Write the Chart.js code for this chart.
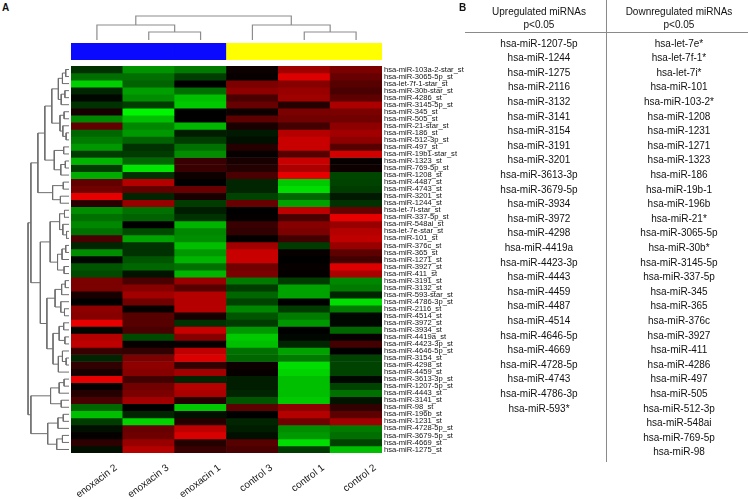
<!DOCTYPE html>
<html lang="en">
<head>
<meta charset="UTF-8">
<title>miRNA heatmap</title>
<style>
  body { margin: 0; background: #fff; }
  #wrap { position: relative; width: 748px; height: 499px; overflow: hidden; background: #fff;
          font-family: 'Liberation Sans', Arial, sans-serif; color: #111; }
  #wrap canvas { position: absolute; }
  .cell { position: absolute; width: 150px; text-align: center; font-size: 10px; line-height: 12px; white-space: nowrap; }
  .panel { position: absolute; font-weight: bold; font-size: 10px; }
  .rule { position: absolute; background: #8a8a8a; }
</style>
</head>
<body>
<div id="wrap">
  <div class="panel" style="left:2px;top:2px">A</div>
  <canvas id="colDendro" width="311" height="28" style="left:71px;top:12px"></canvas>
  <canvas id="groupBar" width="311" height="17" style="left:71px;top:43px"></canvas>
  <canvas id="rowDendro" width="43" height="387" style="left:26px;top:66px"></canvas>
  <canvas id="heat" width="500" height="499" style="left:0;top:0"></canvas>
  <div id="tableB"></div>
</div>

<script src="https://cdn.jsdelivr.net/npm/chart.js"></script>
<script>
const sampleNames = ['enoxacin 2', 'enoxacin 3', 'enoxacin 1', 'control 3', 'control 1', 'control 2'];
const groupColors = ['#0a0aff', '#0a0aff', '#0a0aff', '#ffff00', '#ffff00', '#ffff00'];

const probeNames = [
  'hsa-miR-103a-2-star_st', 'hsa-miR-3065-5p_st', 'hsa-let-7f-1-star_st', 'hsa-miR-30b-star_st',
  'hsa-miR-4286_st', 'hsa-miR-3145-5p_st', 'hsa-miR-345_st', 'hsa-miR-505_st',
  'hsa-miR-21-star_st', 'hsa-miR-186_st', 'hsa-miR-512-3p_st', 'hsa-miR-497_st',
  'hsa-miR-19b1-star_st', 'hsa-miR-1323_st', 'hsa-miR-769-5p_st', 'hsa-miR-1208_st',
  'hsa-miR-4487_st', 'hsa-miR-4743_st', 'hsa-miR-3201_st', 'hsa-miR-1244_st',
  'hsa-let-7i-star_st', 'hsa-miR-337-5p_st', 'hsa-miR-548ai_st', 'hsa-let-7e-star_st',
  'hsa-miR-101_st', 'hsa-miR-376c_st', 'hsa-miR-365_st', 'hsa-miR-1271_st',
  'hsa-miR-3927_st', 'hsa-miR-411_st', 'hsa-miR-3191_st', 'hsa-miR-3132_st',
  'hsa-miR-593-star_st', 'hsa-miR-4786-3p_st', 'hsa-miR-2116_st', 'hsa-miR-4514_st',
  'hsa-miR-3972_st', 'hsa-miR-3934_st', 'hsa-miR-4419a_st', 'hsa-miR-4423-3p_st',
  'hsa-miR-4646-5p_st', 'hsa-miR-3154_st', 'hsa-miR-4298_st', 'hsa-miR-4459_st',
  'hsa-miR-3613-3p_st', 'hsa-miR-1207-5p_st', 'hsa-miR-4443_st', 'hsa-miR-3141_st',
  'hsa-miR-98_st', 'hsa-miR-196b_st', 'hsa-miR-1231_st', 'hsa-miR-4728-5p_st',
  'hsa-miR-3679-5p_st', 'hsa-miR-4669_st', 'hsa-miR-1275_st'
];

// scaled expression, one row per probe, columns in sampleNames order (green < 0 < red)
const expr = [
  [-0.20, -0.60, -0.50,  0.05,  0.65,  0.50],
  [-0.45, -0.45, -0.25,  0.03,  0.90,  0.42],
  [-0.85, -0.40,  0.00,  0.50,  0.55,  0.35],
  [-0.15, -0.65, -0.45,  0.58,  0.62,  0.30],
  [-0.03, -0.58, -0.78,  0.30,  0.65,  0.38],
  [-0.20, -0.25, -0.82,  0.42,  0.15,  0.70],
  [ 0.10, -1.00,  0.00,  0.05,  0.50,  0.50],
  [-0.55, -0.78,  0.00,  0.38,  0.46,  0.46],
  [ 0.40, -0.55, -0.75,  0.10,  0.27,  0.58],
  [-0.42, -0.62, -0.12, -0.10,  0.74,  0.66],
  [-0.50, -0.40, -0.24, -0.06,  0.82,  0.58],
  [-0.62, -0.20, -0.46,  0.15,  0.82,  0.35],
  [-0.24, -0.24, -0.58,  0.03,  0.35,  0.86],
  [-0.74, -0.42,  0.23,  0.10,  0.82,  0.03],
  [-0.24, -0.94,  0.23,  0.15,  0.70,  0.06],
  [-0.70, -0.20,  0.06,  0.30,  0.94, -0.28],
  [ 0.40,  0.74,  0.00, -0.15, -0.82, -0.27],
  [ 0.46,  0.40,  0.42, -0.15, -0.90, -0.24],
  [ 0.94, -0.15,  0.10, -0.27, -0.42, -0.10],
  [ 0.18,  0.62, -0.24,  0.42, -0.66, -0.20],
  [-0.58, -0.46, -0.12,  0.00,  0.78,  0.42],
  [-0.46, -0.40, -0.20,  0.02,  0.30,  0.94],
  [-0.55,  0.00, -0.74,  0.23,  0.55,  0.62],
  [-0.46, -0.30, -0.55,  0.20,  0.50,  0.74],
  [ 0.30, -0.66, -0.58,  0.02,  0.27,  0.78],
  [-0.15, -0.20, -0.78,  0.66, -0.24,  0.62],
  [-0.58, -0.20, -0.62,  0.82,  0.03,  0.38],
  [-0.03, -0.35, -0.74,  0.82,  0.00,  0.27],
  [-0.35, -0.42, -0.46,  0.46,  0.03,  0.90],
  [-0.30, -0.08, -0.74,  0.50,  0.02,  0.70],
  [ 0.50,  0.30,  0.62, -0.50, -0.24, -0.55],
  [ 0.50,  0.55,  0.35, -0.24, -0.66, -0.50],
  [ 0.10,  0.66,  0.74, -0.42, -0.66, -0.15],
  [ 0.00,  0.46,  0.74, -0.27,  0.00, -0.90],
  [ 0.58,  0.03,  0.74, -0.55, -0.24, -0.50],
  [ 0.55,  0.35,  0.10, -0.35, -0.50, -0.03],
  [ 0.94,  0.35, -0.20, -0.24, -0.62, -0.03],
  [-0.03,  0.30,  0.82, -0.62,  0.00, -0.42],
  [ 0.74, -0.30,  0.55, -0.82, -0.03,  0.03],
  [ 0.78,  0.03,  0.03, -0.78, -0.15,  0.27],
  [ 0.23,  0.20,  0.78, -0.46, -0.66,  0.00],
  [-0.15,  0.50,  0.90, -0.42, -0.50, -0.27],
  [ 0.20,  0.58,  0.20,  0.05, -0.90, -0.27],
  [ 0.10,  0.55,  0.66,  0.03, -0.86, -0.27],
  [ 0.94,  0.27, -0.15, -0.12, -0.78, -0.03],
  [ 0.03,  0.46,  0.74, -0.12, -0.78, -0.27],
  [ 0.15,  0.50,  0.70, -0.15, -0.78, -0.46],
  [ 0.30,  0.66,  0.15, -0.35, -0.82, -0.08],
  [-0.42,  0.00, -0.82,  0.38,  0.58,  0.20],
  [-0.78, -0.15, -0.06,  0.00,  0.74,  0.38],
  [-0.24, -0.86,  0.15, -0.15,  0.46,  0.66],
  [-0.06,  0.42,  0.78, -0.12, -0.58, -0.50],
  [ 0.02,  0.45,  0.88, -0.06, -0.62, -0.45],
  [ 0.18,  0.62,  0.15,  0.35, -0.90, -0.27],
  [-0.06,  0.74,  0.23,  0.30, -0.24, -0.78]
];

// clustering trees: [merge height, left, right], leaves are indexes
const colTree = [24, [15, 0, [8, 1, 2]], [15, 3, [8, 4, 5]]];
const rowTree =
  [10,
    [9.3,
      [7.6,
        [5.9,
          [4.2,
            [2.6, [1.6, [0.8, 0, 1], 2], [1.9, [1.0, 3, 4], 5]],
            [2.2, [1.2, 6, 7], [1.5, 8, [0.7, 9, 10]]]],
          [3.6, [1.3, 11, 12], [2.0, [0.9, 13, 14], 15]]],
        [4.0, [1.4, 16, 17], [2.1, 18, 19]]],
      [7.0,
        [4.6,
          [2.3, [1.1, 20, 21], [1.5, 22, [0.6, 23, 24]]],
          [2.8, [1.7, [0.8, 25, 26], 27], [1.2, 28, 29]]],
        [5.4,
          [3.4, [1.8, [0.9, 30, 31], 32], [2.0, 33, [1.1, 34, 35]]],
          [3.9, [2.4, [1.3, 36, 37], [1.0, 38, 39]], [2.6, [1.6, 40, [0.7, 41, 42]], 43]]]]],
    [9.3,
      [4.5, [2.4, [1.2, 44, 45], 46], [1.9, 47, 48]],
      [5.2, [2.7, [1.4, 49, 50], 51], [3.0, [1.6, 52, 53], 54]]]];

const upregulated = [
  'hsa-miR-1207-5p', 'hsa-miR-1244', 'hsa-miR-1275', 'hsa-miR-2116', 'hsa-miR-3132', 'hsa-miR-3141',
  'hsa-miR-3154', 'hsa-miR-3191', 'hsa-miR-3201', 'hsa-miR-3613-3p', 'hsa-miR-3679-5p', 'hsa-miR-3934',
  'hsa-miR-3972', 'hsa-miR-4298', 'hsa-miR-4419a', 'hsa-miR-4423-3p', 'hsa-miR-4443', 'hsa-miR-4459',
  'hsa-miR-4487', 'hsa-miR-4514', 'hsa-miR-4646-5p', 'hsa-miR-4669', 'hsa-miR-4728-5p', 'hsa-miR-4743',
  'hsa-miR-4786-3p', 'hsa-miR-593*'
];
const downregulated = [
  'hsa-let-7e*', 'hsa-let-7f-1*', 'hsa-let-7i*', 'hsa-miR-101', 'hsa-miR-103-2*', 'hsa-miR-1208',
  'hsa-miR-1231', 'hsa-miR-1271', 'hsa-miR-1323', 'hsa-miR-186', 'hsa-miR-19b-1', 'hsa-miR-196b',
  'hsa-miR-21*', 'hsa-miR-3065-5p', 'hsa-miR-30b*', 'hsa-miR-3145-5p', 'hsa-miR-337-5p', 'hsa-miR-345',
  'hsa-miR-365', 'hsa-miR-376c', 'hsa-miR-3927', 'hsa-miR-411', 'hsa-miR-4286', 'hsa-miR-497',
  'hsa-miR-505', 'hsa-miR-512-3p', 'hsa-miR-548ai', 'hsa-miR-769-5p', 'hsa-miR-98'
];

const FONT = 'Liberation Sans, Arial, sans-serif';

const heatColor = v => {
  const c = Math.round(Math.min(Math.abs(v), 1) * 245);
  return v >= 0 ? `rgb(${c},0,0)` : `rgb(0,${c},0)`;
};

// walk a tree and collect the elbow lines as {pos, h} pairs, NaN breaks the line
const treeLines = (node, pts) => {
  if (typeof node === 'number') return { pos: node + 0.5, h: 0 };
  const [h, a, b] = node;
  const l = treeLines(a, pts);
  const r = treeLines(b, pts);
  pts.push([l.pos, l.h], [l.pos, h], [r.pos, h], [r.pos, r.h], [NaN, NaN]);
  return { pos: (l.pos + r.pos) / 2, h: h };
};

const hidden = { display: false };
const baseOpts = {
  responsive: false,
  animation: false,
  events: [],
  plugins: { legend: { display: false }, tooltip: { enabled: false } }
};

// ---------- heatmap ----------
new Chart(document.getElementById('heat'), {
  type: 'bar',
  data: {
    labels: sampleNames,
    datasets: probeNames.map((name, i) => ({
      label: name,
      data: sampleNames.map(() => 1),
      backgroundColor: expr[i].map(heatColor),
      borderWidth: 0,
      barPercentage: 1,
      categoryPercentage: 1
    }))
  },
  options: {
    ...baseOpts,
    layout: { padding: { left: 71, top: 66, right: 0, bottom: 0 } },
    scales: {
      x: {
        stacked: true,
        grid: { display: false, drawTicks: false },
        border: { display: false },
        ticks: {
          minRotation: 37, maxRotation: 37, labelOffset: 19, padding: 9,
          color: '#1a1a1a', font: { family: FONT, size: 10 }
        },
        afterFit: s => { s.height = 46; }
      },
      y: { stacked: true, min: 0, max: probeNames.length, reverse: true, display: false },
      probes: {
        type: 'category',
        axis: 'y',
        position: 'right',
        labels: probeNames,
        offset: true,
        grid: { display: false, drawTicks: false },
        border: { display: false },
        ticks: { autoSkip: false, padding: 2, color: '#111', font: { family: FONT, size: 7.6 } },
        afterFit: s => { s.width = 118; }
      }
    }
  }
});

// ---------- row dendrogram ----------
const rowPts = [];
treeLines(rowTree, rowPts);
new Chart(document.getElementById('rowDendro'), {
  type: 'scatter',
  data: {
    datasets: [{
      data: rowPts.map(([p, h]) => ({ x: h, y: p })),
      showLine: true, pointRadius: 0, borderColor: '#6e6e6e', borderWidth: 1, clip: false
    }]
  },
  options: {
    ...baseOpts,
    scales: {
      x: { type: 'linear', min: 0, max: 10.5, reverse: true, ...hidden },
      y: { type: 'linear', min: 0, max: probeNames.length, reverse: true, ...hidden }
    }
  }
});

// ---------- column dendrogram ----------
const colPts = [];
treeLines(colTree, colPts);
new Chart(document.getElementById('colDendro'), {
  type: 'scatter',
  data: {
    datasets: [{
      data: colPts.map(([p, h]) => ({ x: p, y: h })),
      showLine: true, pointRadius: 0, borderColor: '#8c8c8c', borderWidth: 1.2, clip: false
    }]
  },
  options: {
    ...baseOpts,
    scales: {
      x: { type: 'linear', min: 0, max: sampleNames.length, ...hidden },
      y: { type: 'linear', min: 0, max: 28, ...hidden }
    }
  }
});

// ---------- group colour bar ----------
new Chart(document.getElementById('groupBar'), {
  type: 'bar',
  data: {
    labels: sampleNames,
    datasets: [{
      data: sampleNames.map(() => 1),
      backgroundColor: groupColors,
      borderWidth: 0, barPercentage: 1, categoryPercentage: 1
    }]
  },
  options: {
    ...baseOpts,
    scales: { x: hidden, y: { min: 0, max: 1, ...hidden } }
  }
});

// ---------- panel B table ----------
const tableB = document.getElementById('tableB');
const addText = (text, cx, cy) => {
  const d = document.createElement('div');
  d.className = 'cell';
  d.textContent = text;
  d.style.left = (cx - 75) + 'px';
  d.style.top = (cy - 6) + 'px';
  tableB.appendChild(d);
};
const addRule = (left, top, w, h) => {
  const d = document.createElement('div');
  d.className = 'rule';
  Object.assign(d.style, { left: left + 'px', top: top + 'px', width: w + 'px', height: h + 'px' });
  tableB.appendChild(d);
};

const upX = 539, downX = 679, rowTop = 43.5, rowStep = 14.6;
const panelB = document.createElement('div');
panelB.className = 'panel';
panelB.textContent = 'B';
Object.assign(panelB.style, { left: '459px', top: '2px' });
tableB.appendChild(panelB);

addText('Upregulated miRNAs', upX, 11.5);
addText('p<0.05', upX, 24.5);
addText('Downregulated miRNAs', downX, 11.5);
addText('p<0.05', downX, 24.5);
addRule(465, 32, 283, 1);
addRule(606, 0, 1, 462);

upregulated.forEach((name, i) => addText(name, upX, rowTop + i * rowStep));
downregulated.forEach((name, i) => addText(name, downX, rowTop + i * rowStep));
</script>
</body>
</html>
